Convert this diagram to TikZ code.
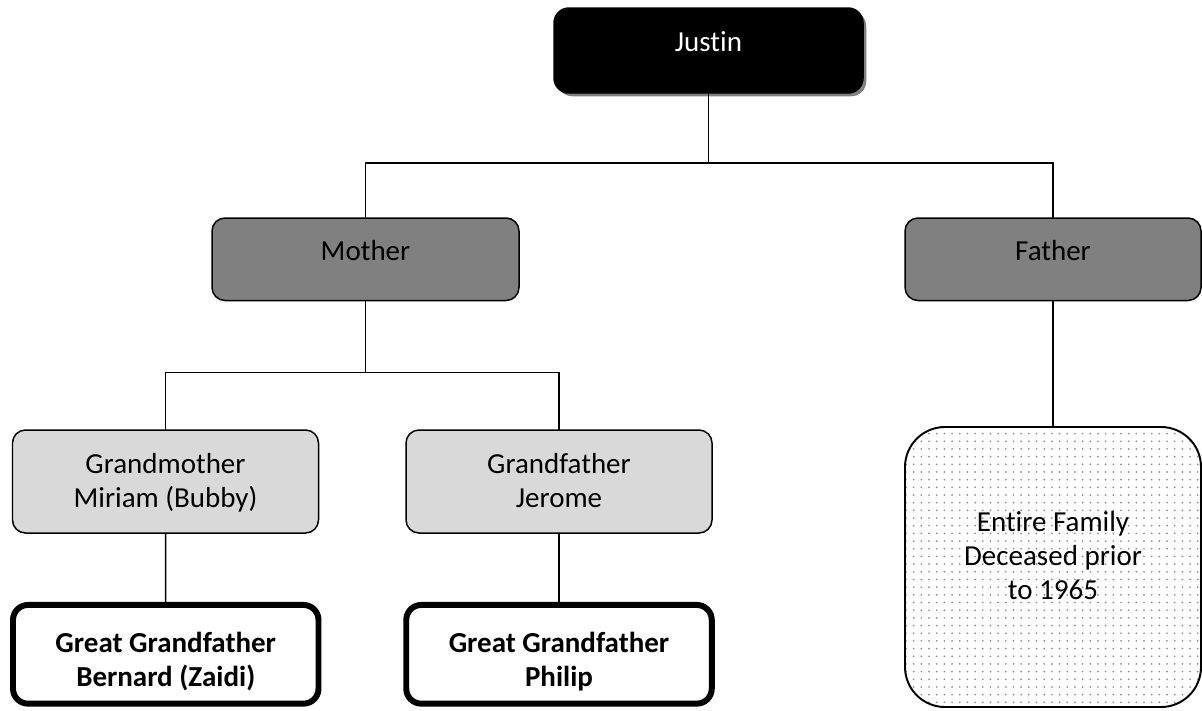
\documentclass[tikz,border=0pt]{standalone}
\usepackage{fontspec}
\setmainfont{Carlito}[Ligatures=NoCommon]
\usetikzlibrary{shadows,patterns.meta}
\newcommand\lnstrut{\vphantom{()}}
\begin{document}
\begin{tikzpicture}[x=0.02cm,y=-0.02cm,
  every node/.style={inner sep=0pt,outer sep=0pt},
  conn/.style={line width=0.85pt,draw=black},
  boxbase/.style={rectangle,draw=black,line width=0.85pt,rounded corners=0.26cm},
  topbox/.style={boxbase,fill=black,rounded corners=0.3cm,
    drop shadow={shadow xshift=0.065cm,shadow yshift=-0.065cm,opacity=1,fill=black!50}},
  parentbox/.style={boxbase,fill=black!50},
  grandbox/.style={boxbase,fill=black!15},
  greatbox/.style={boxbase,fill=white,line width=3.4pt,rounded corners=0.3cm},
  deadbox/.style={boxbase,line width=1.1pt,rounded corners=0.8cm,
    pattern={Dots[distance=4.37pt,radius=0.55pt]},pattern color=black!45},
  label/.style={align=center,font=\fontsize{16.5pt}{19.4pt}\selectfont},
]
\useasboundingbox (0,0) rectangle (1202,710);
\clip (0,0) rectangle (1202,710);

% boxes
\node[topbox,minimum width=309*0.02cm,minimum height=85*0.02cm] (justin) at (708.5,50.5) {};
\node[parentbox,minimum width=307*0.02cm,minimum height=82.5*0.02cm] (mother) at (365.5,259.25) {};
\node[parentbox,minimum width=296*0.02cm,minimum height=82.5*0.02cm] (father) at (1053,259.25) {};
\node[grandbox,minimum width=306*0.02cm,minimum height=103*0.02cm] (grandma) at (165.5,481.5) {};
\node[grandbox,minimum width=306*0.02cm,minimum height=103*0.02cm] (grandpa) at (559,481.5) {};
\node[greatbox,minimum width=305.5*0.02cm,minimum height=98.7*0.02cm] (bernard) at (165.75,654.3) {};
\node[greatbox,minimum width=305.5*0.02cm,minimum height=98.7*0.02cm] (philip) at (559,654.3) {};
\node[deadbox,minimum width=296*0.02cm,minimum height=280*0.02cm] (entire) at (1053,567) {};

% connectors
\draw[conn] (justin.south) -- ++(0,70) -| (mother.north);
\draw[conn] (justin.south) -- ++(0,70) -| (father.north);
\draw[conn] (mother.south) -- ++(0,72) -| (grandma.north);
\draw[conn] (mother.south) -- ++(0,72) -| (grandpa.north);
\draw[conn] (grandma.south) -- (bernard.north);
\draw[conn] (grandpa.south) -- (philip.north);
\draw[conn] (father.south) -- (entire.north);

% texts
\node[label,text=white] (justin-t) at (708.5,43) {\lnstrut Justin};
\node[label] (mother-t) at (365.5,252) {\lnstrut Mother};
\node[label] (father-t) at (1053,252) {\lnstrut Father};
\node[label] (grandma-t) at (165.5,482) {\lnstrut Grandmother\\\lnstrut Miriam (Bubby)};
\node[label] (grandpa-t) at (559,482) {\lnstrut Grandfather\\\lnstrut Jerome};
\node[label,font=\fontsize{16.5pt}{19.4pt}\selectfont\bfseries] (bernard-t) at (165.75,661) {\lnstrut Great Grandfather\\\lnstrut Bernard (Zaidi)};
\node[label,font=\fontsize{16.5pt}{19.4pt}\selectfont\bfseries] (philip-t) at (559,661) {\lnstrut Great Grandfather\\\lnstrut Philip};
\node[label] (entire-t) at (1053,557) {\lnstrut Entire Family\\\lnstrut Deceased prior\\\lnstrut to 1965};
\end{tikzpicture}
\end{document}
